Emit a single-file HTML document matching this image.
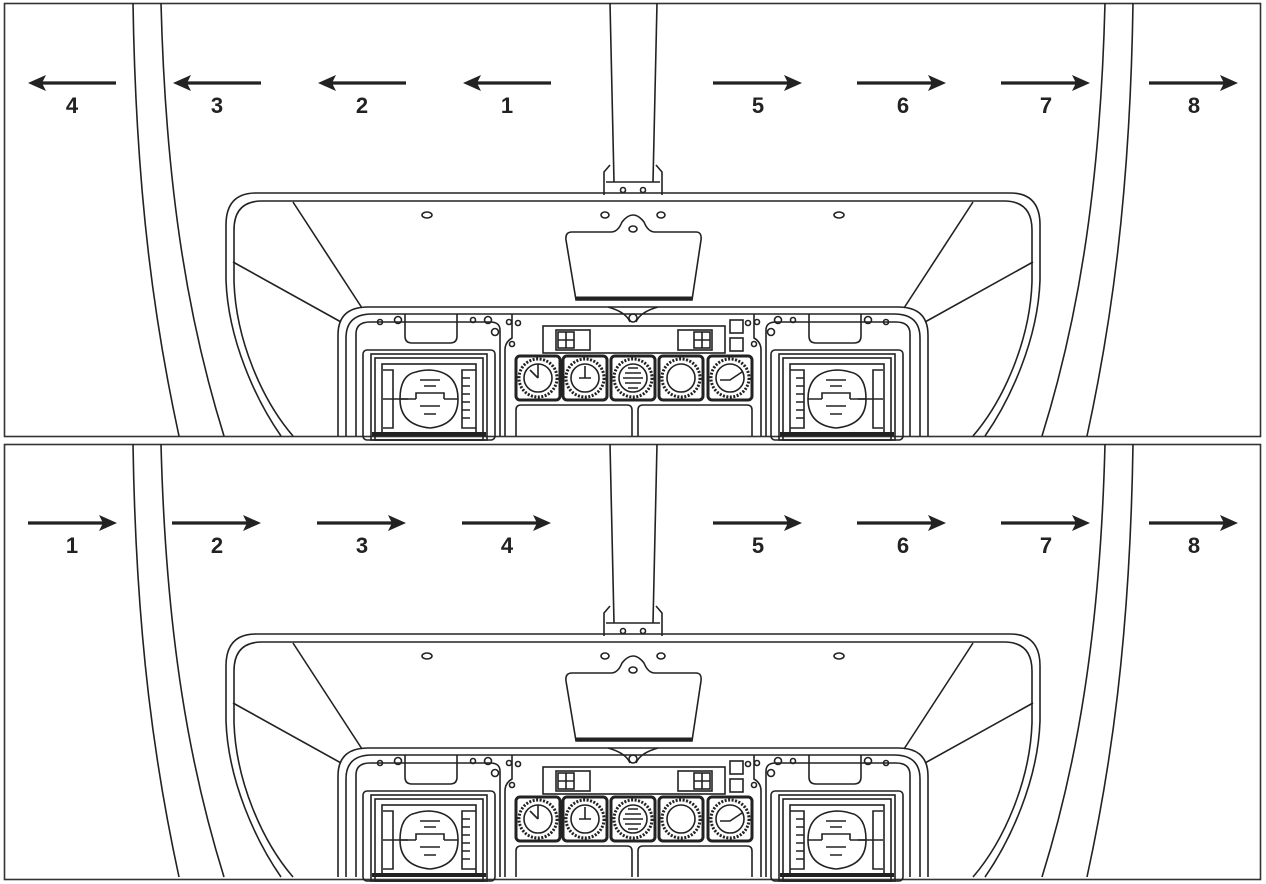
<!DOCTYPE html>
<html><head><meta charset="utf-8"><style>
html,body{margin:0;padding:0;background:#fff}
svg{display:block}
text{font-family:"Liberation Sans",sans-serif;font-weight:bold;font-size:22px;fill:#222;text-anchor:middle}
</style></head><body>
<svg width="1266" height="884" viewBox="0 0 1266 884" xmlns="http://www.w3.org/2000/svg">
<defs>
<g id="half" fill="none" stroke="#222" stroke-width="1.6">
  <!-- arch -->
  <path d="M133 3 C136 200 156 330 179 436"/>
  <path d="M161 3 C166 200 191 330 224 436"/>
  <!-- glare frame -->
  <path d="M633 193 H256 Q226 193 226 225 V280 C228 340 256 400 281 436"/>
  <path d="M633 201 H262 Q234 201 234 230 V282 C236 340 262 400 293 436"/>
  <path d="M293 202 L362 308"/>
  <path d="M233 262 L341 322"/>
  <!-- instrument panel -->
  <path d="M633 307 H368 Q338 307 338 335 V436"/>
  <path d="M633 314 H372 Q346 314 346 338 V436"/>
  <path d="M500 436 V330 Q500 322 490 322 H370 Q356 322 356 334 V436"/>
  <path d="M405 314 V336 Q405 343 412 343 H450 Q457 343 457 336 V314"/>
  <path d="M505 436 V350 Q505 342 512 338 V314"/>
  <!-- MFD -->
  <rect x="363" y="350" width="132" height="90" rx="4"/>
  <rect x="371" y="354" width="116" height="86"/>
  <rect x="375" y="358" width="108" height="82"/>
  <rect x="382" y="364" width="94" height="70"/>
  <path d="M372 434 H486" stroke-width="4"/>
  <path d="M383 370 H393 V428 H383 M383 399 H408"/>
  <path d="M476 370 H462 V428 H476 M462 378 H470 M462 386 H470 M462 394 H470 M462 402 H470 M462 410 H470 M462 418 H470"/>
  <path d="M416 372 Q400 375 400 399 Q400 425 430 428 Q458 425 458 399 Q458 372 430 370 Q422 370 416 372 Z"/>
  <path d="M400 399 H416 M444 399 H458 M416 399 V393 H444 V399 M420 380 H440 M424 386 H436 M420 406 H440 M424 414 H436"/>
  <!-- holes -->
  <circle cx="380" cy="322" r="2.5"/><circle cx="398" cy="320" r="3.5"/>
  <circle cx="473" cy="320" r="2.5"/><circle cx="488" cy="320" r="3.5"/>
  <circle cx="509" cy="322" r="2.5"/><circle cx="495" cy="332" r="3.5"/>
  <circle cx="518" cy="323" r="2.5"/><circle cx="512" cy="344" r="2.5"/>
  <ellipse cx="427" cy="215" rx="5" ry="3"/>
  <ellipse cx="605" cy="215" rx="4" ry="3"/>
</g>
<g id="panel">
  <use href="#half"/>
  <use href="#half" transform="translate(1266 0) scale(-1 1)"/>
  <g fill="none" stroke="#222" stroke-width="1.6">
    <!-- pillar -->
    <path d="M610 3 L614 182 M657 3 L653 182"/>
    <path d="M604 195 V172 L610 165 M662 195 V172 L656 165 M606 182 H660"/>
    <circle cx="623" cy="190" r="2.5"/><circle cx="643" cy="190" r="2.5"/>
    <!-- HUD -->
    <path d="M572 232 H611 Q618 232 622 222 Q633 208 644 222 Q648 232 655 232 H696 Q702 232 701 240 L692 300 H576 L566 240 Q565 232 572 232 Z"/>
    <path d="M576 298 H692" stroke-width="3"/>
    <ellipse cx="633" cy="229" rx="4" ry="3"/>
    <path d="M608 307 Q626 312 630 322 M658 307 Q640 312 636 322"/><circle cx="633" cy="318" r="4"/>
    <!-- strip -->
    <rect x="543" y="326" width="182" height="27"/>
    <rect x="556" y="330" width="34" height="20"/><rect x="558" y="332" width="16" height="16"/><path d="M566 332 V348 M558 340 H574"/>
    <rect x="678" y="330" width="34" height="20"/><rect x="694" y="332" width="16" height="16"/><path d="M702 332 V348 M694 340 H710"/>
    <rect x="730" y="320" width="13" height="13"/><rect x="730" y="338" width="13" height="13"/>
    <!-- gauges -->
    <g id="gauge">
      <rect x="516" y="356" width="44" height="44" rx="4" stroke-width="3"/>
      <circle cx="538" cy="378" r="19" stroke-width="3" stroke-dasharray="2 1.5"/>
      <circle cx="538" cy="378" r="14"/>
    </g>
    <use href="#gauge" x="47"/><use href="#gauge" x="95"/><use href="#gauge" x="143"/><use href="#gauge" x="192"/>
    <path d="M538 378 L530 370 M538 378 V364"/>
    <path d="M585 378 V366 M579 378 H591"/>
    <path d="M625 373 H641 M623 378 H643 M625 383 H641 M628 368 H638 M628 388 H638"/>
    <path d="M720 380 H730 L742 372"/>
    <!-- lower boxes -->
    <path d="M516 436 V410 Q516 405 521 405 H627 Q632 405 632 410 V436"/>
    <path d="M638 436 V410 Q638 405 643 405 H747 Q752 405 752 410 V436"/>
  </g>
</g>
<g id="al"><path d="M116 83 H40" stroke="#222" stroke-width="3.2"/><path d="M28 83 L46 75 L42 83 L46 91 Z" fill="#222"/></g>
<g id="ar"><path d="M713 83 H789" stroke="#222" stroke-width="3.2"/><path d="M802 83 L784 75 L788 83 L784 91 Z" fill="#222"/></g>
</defs>

<rect x="4.5" y="3.5" width="1256" height="433" fill="none" stroke="#333" stroke-width="1.6"/>
<rect x="4.5" y="444.5" width="1256" height="435" fill="none" stroke="#333" stroke-width="1.6"/>
<use href="#panel"/>
<use href="#panel" y="441"/>

<!-- top arrows -->
<use href="#al"/><use href="#al" x="145"/><use href="#al" x="290"/><use href="#al" x="435"/>
<use href="#ar"/><use href="#ar" x="144"/><use href="#ar" x="288"/><use href="#ar" x="436"/>
<text x="72" y="113">4</text><text x="217" y="113">3</text><text x="362" y="113">2</text><text x="507" y="113">1</text>
<text x="758" y="113">5</text><text x="903" y="113">6</text><text x="1046" y="113">7</text><text x="1194" y="113">8</text>

<!-- bottom arrows -->
<g transform="translate(0 440)">
<use href="#ar" x="-685"/><use href="#ar" x="-541"/><use href="#ar" x="-396"/><use href="#ar" x="-251"/>
<use href="#ar"/><use href="#ar" x="144"/><use href="#ar" x="288"/><use href="#ar" x="436"/>
<text x="72" y="113">1</text><text x="217" y="113">2</text><text x="362" y="113">3</text><text x="507" y="113">4</text>
<text x="758" y="113">5</text><text x="903" y="113">6</text><text x="1046" y="113">7</text><text x="1194" y="113">8</text>
</g>
</svg>
</body></html>
